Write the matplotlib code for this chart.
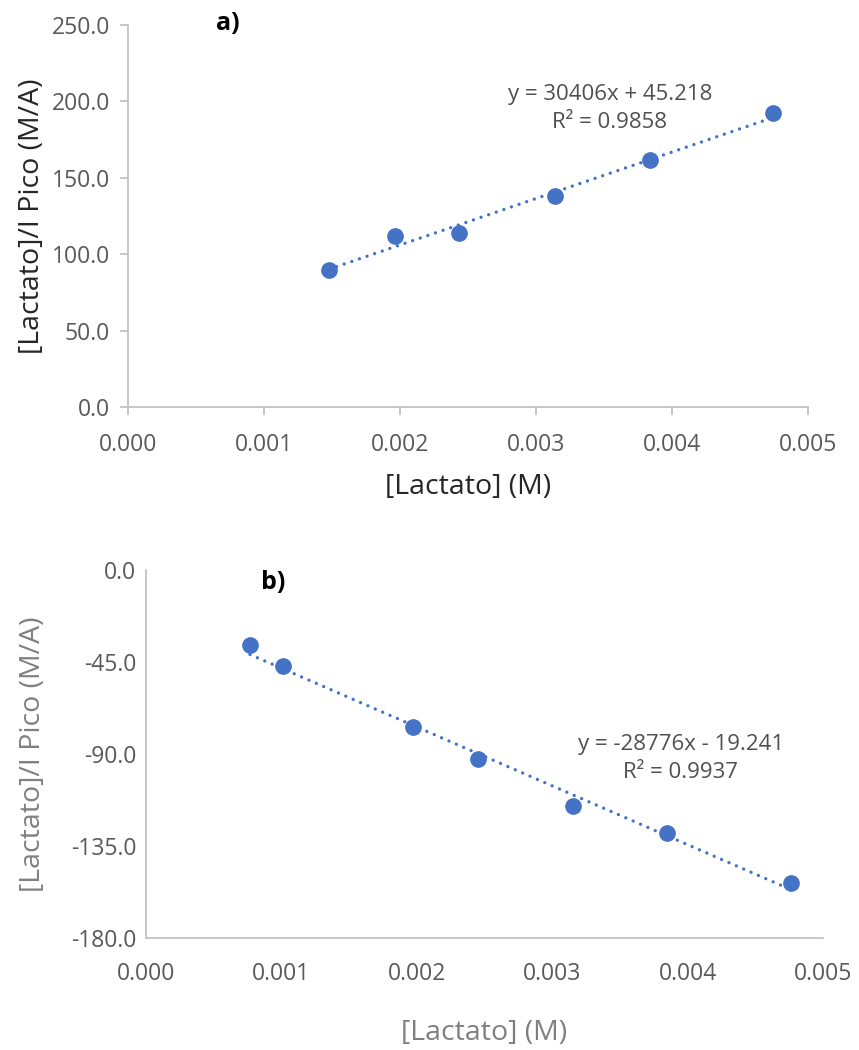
import numpy as np
import matplotlib.pyplot as plt

plt.rcParams['font.family'] = ['Open Sans', 'DejaVu Sans']

# panel a)
xa = [0.001478, 0.001963, 0.002434, 0.003140, 0.003838, 0.004743]
ya = [89.7, 111.9, 113.9, 138.1, 161.6, 192.4]
fit_a = [30406, 45.218]
eq_a = 'y = 30406x + 45.218\nR² = 0.9858'

# panel b)
xb = [0.000768, 0.001012, 0.001972, 0.002452, 0.003154, 0.003848, 0.004764]
yb = [-36.7, -47.0, -76.8, -92.5, -115.5, -128.7, -153.1]
fit_b = [-28776, -19.241]
eq_b = 'y = -28776x - 19.241\nR² = 0.9937'

xticks = [0.000, 0.001, 0.002, 0.003, 0.004, 0.005]
yticks_a = [0, 50, 100, 150, 200, 250]
yticks_b = [0, -45, -90, -135, -180]

blue = '#4472C4'
spine = '#bfbfbf'

fig = plt.figure(figsize=(8.59, 10.5), dpi=100)
ax1 = fig.add_axes([0.149, 0.6124, 0.7916, 0.3638])
ax2 = fig.add_axes([0.170, 0.1067, 0.788, 0.3504])


def draw(ax, x, y, fit, yticks, ylim, lab_col, ticks_on):
    x = np.array(x)
    xl = np.array([x.min(), x.max()])
    ax.plot(xl, fit[0] * xl + fit[1], color=blue, lw=2.4,
            linestyle=(0, (0.01, 2.4)), dash_capstyle='round', zorder=2)
    ax.plot(x, y, 'o', color=blue, ms=11, zorder=3)
    ax.set_xlim(0, 0.005)
    ax.set_ylim(*ylim)
    ax.set_xticks(xticks)
    ax.set_xticklabels([f'{t:.3f}' for t in xticks])
    ax.set_yticks(yticks)
    ax.set_yticklabels([f'{t:.1f}' for t in yticks])
    for s in ['top', 'right']:
        ax.spines[s].set_visible(False)
    for s in ['left', 'bottom']:
        ax.spines[s].set_color(spine)
        ax.spines[s].set_linewidth(1.2)
    ax.tick_params(colors='#595959', labelsize=16.5, length=6 if ticks_on else 0,
                   width=1.2, color=spine, pad=7)
    ax.tick_params(axis='x', pad=13 if ticks_on else 17)
    ax.set_xlabel('[Lactato] (M)', fontsize=20.5, color=lab_col)
    ax.set_ylabel('[Lactato]/I Pico (M/A)', fontsize=20.5, color=lab_col)


draw(ax1, xa, ya, fit_a, yticks_a, (0, 250), '#262626', True)
ax1.text(0.003544, 195.4, eq_a, ha='center', va='center', fontsize=16,
         color='#505050', linespacing=1.4)
ax1.text(0.000735, 251, 'a)', ha='center', va='center', fontsize=18,
         fontweight='bold', color='black')
ax1.xaxis.labelpad = 11
ax1.yaxis.labelpad = 4

draw(ax2, xb, yb, fit_b, yticks_b, (-180, 0), '#808080', False)
ax2.text(0.00395, -92.2, eq_b, ha='center', va='center', fontsize=16,
         color='#505050', linespacing=1.4)
ax2.text(0.00094, -6.3, 'b)', ha='center', va='center', fontsize=18,
         fontweight='bold', color='black')
ax2.xaxis.labelpad = 24
ax2.yaxis.labelpad = 17

fig.savefig('out.png', dpi=100)
